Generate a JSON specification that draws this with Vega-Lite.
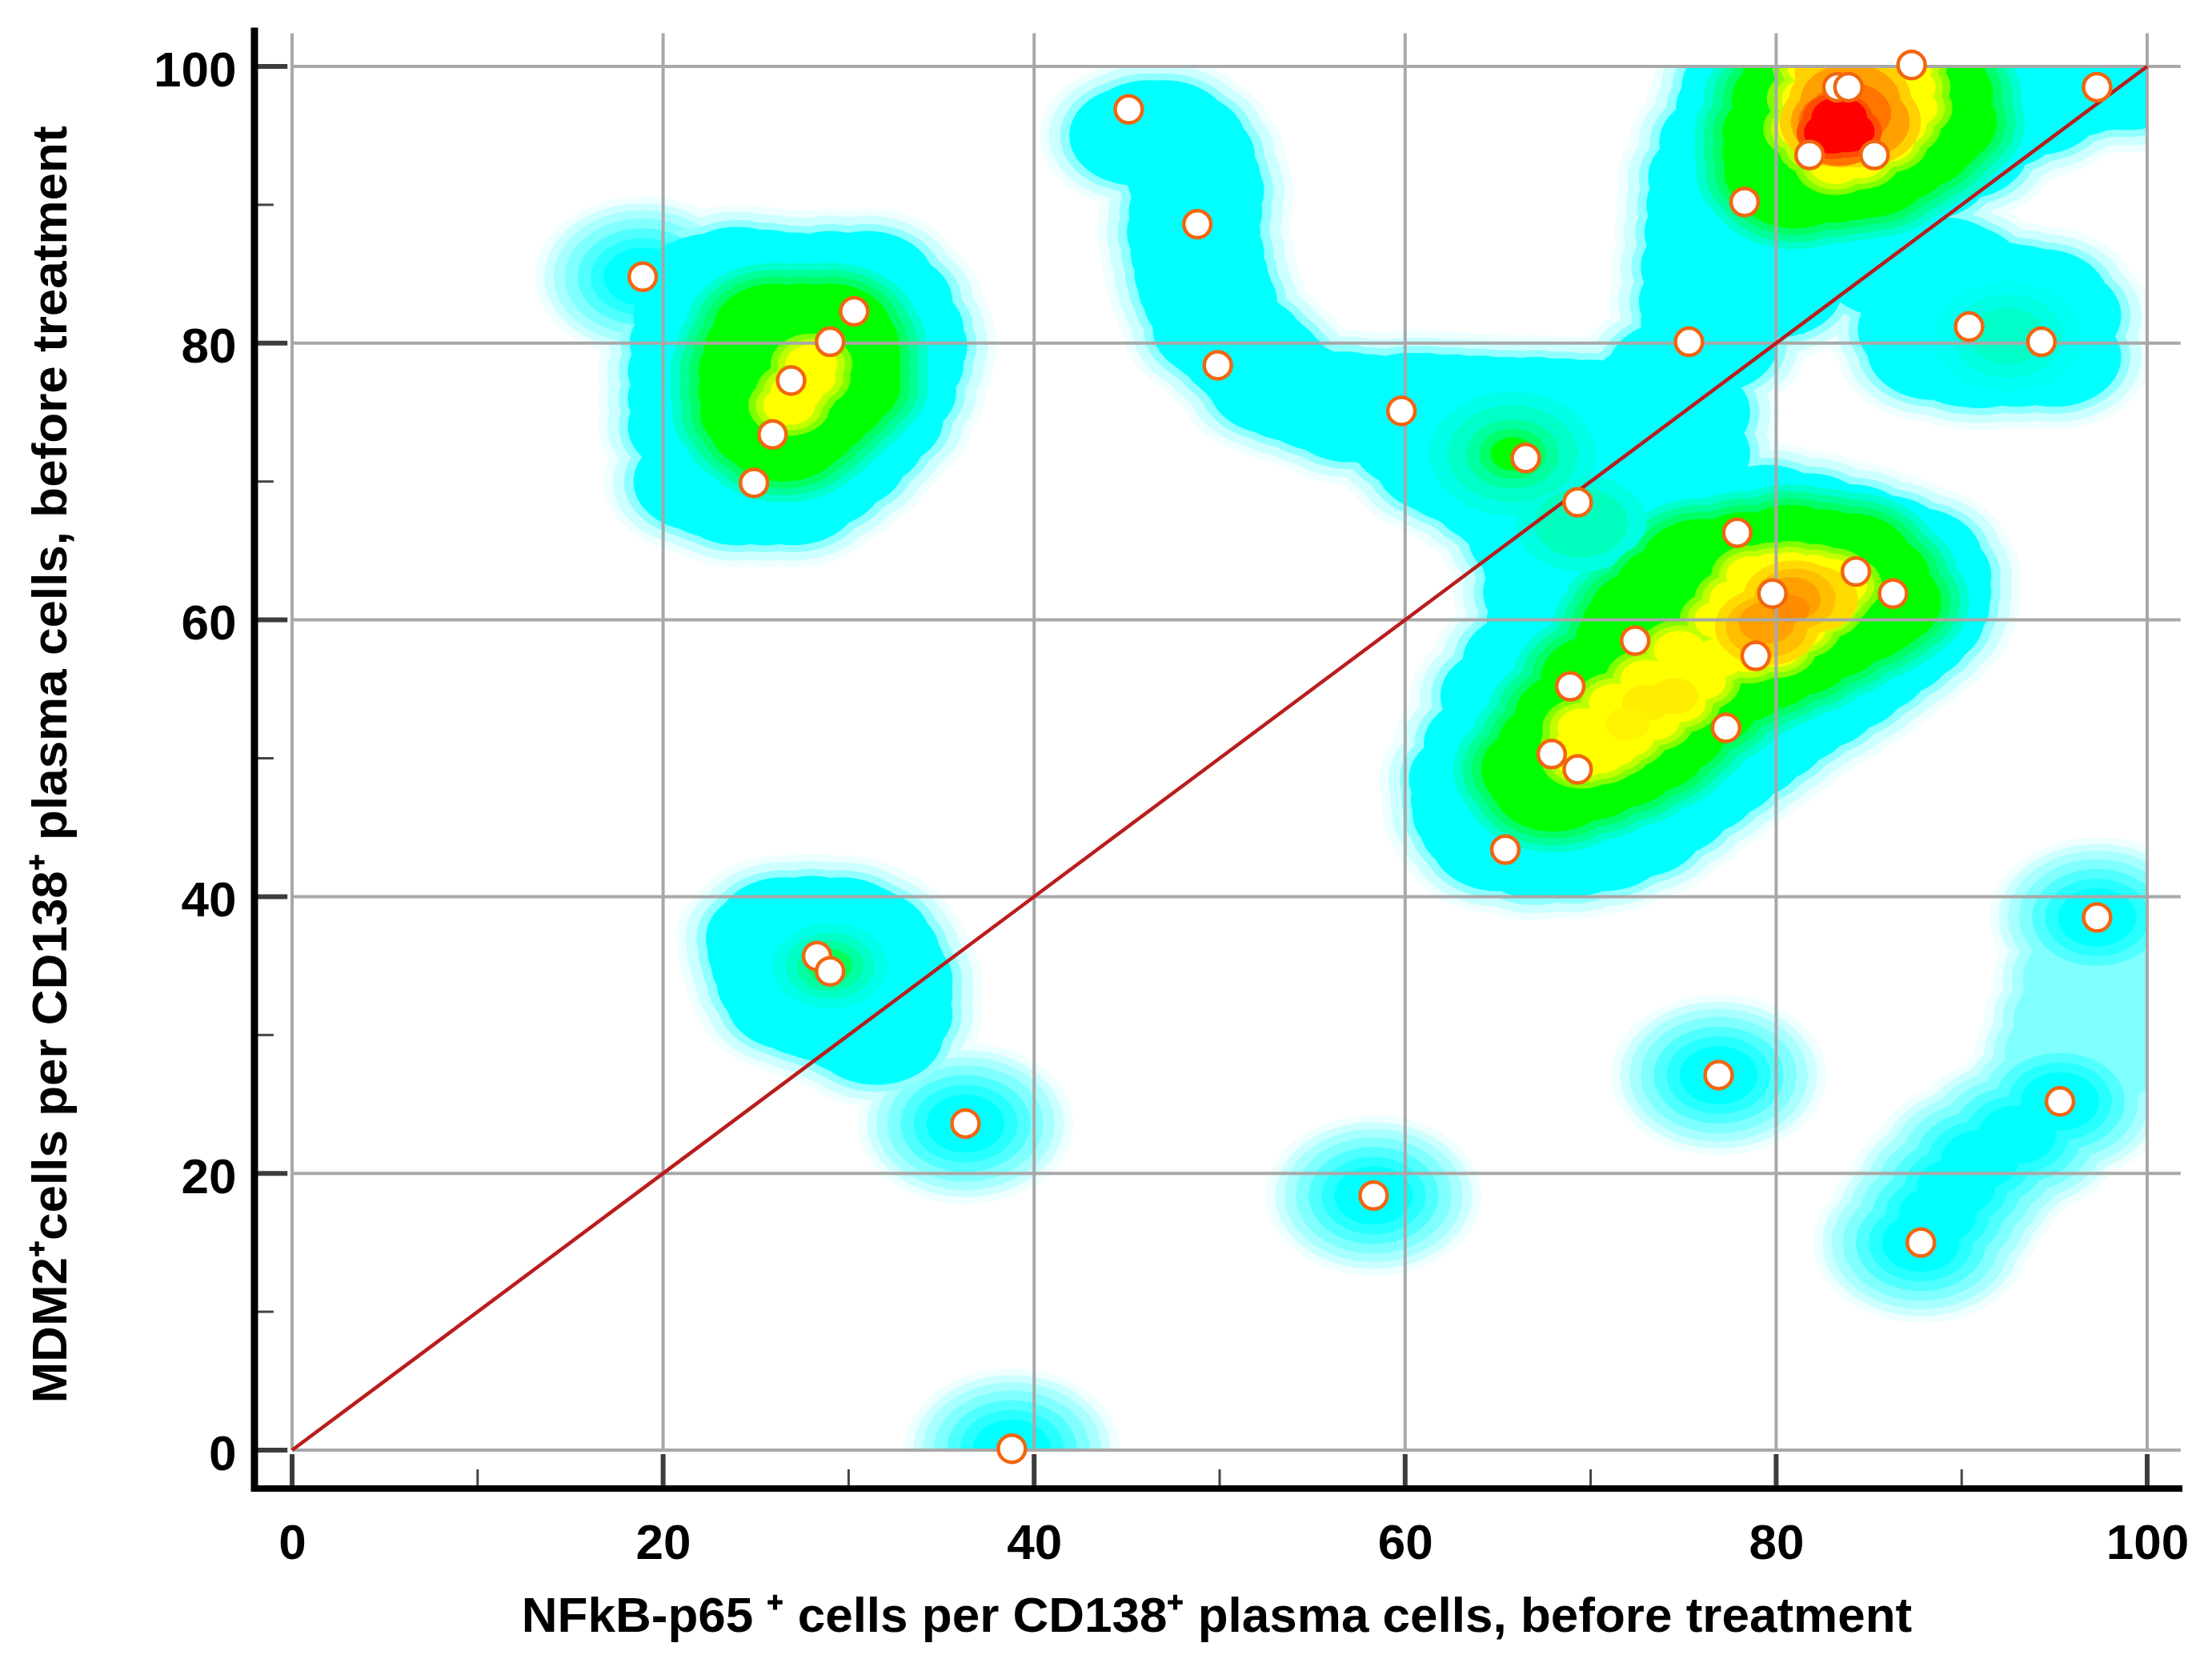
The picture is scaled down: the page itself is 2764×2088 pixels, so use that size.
{
"$schema":"https://vega.github.io/schema/vega-lite/v6.json",
"width":2318,"height":1729,
"autosize":{"type":"none"},
"padding":{"left":365,"top":83,"right":81,"bottom":276},
"background":"white",
"config":{"view":{"stroke":null}},
"datasets":{
"major":[{"x":0,"y":0},{"x":20,"y":20},{"x":40,"y":40},{"x":60,"y":60},{"x":80,"y":80},{"x":100,"y":100}],
"minor":[{"x":10,"y":10},{"x":30,"y":30},{"x":50,"y":50},{"x":70,"y":70},{"x":90,"y":90}],
"frame":[{"x":0,"y":0}],
"diagonal":[{"x":0,"y":0},{"x":100,"y":100}],
"patients":[{"x":45.1,"y":96.9},{"x":48.8,"y":88.6},{"x":49.9,"y":78.4},{"x":59.8,"y":75.1},{"x":66.5,"y":71.7},{"x":69.3,"y":68.5},{"x":18.9,"y":84.8},{"x":30.3,"y":82.3},{"x":29,"y":80.1},{"x":26.9,"y":77.3},{"x":25.9,"y":73.4},{"x":24.9,"y":69.9},{"x":75.3,"y":80.1},{"x":78.3,"y":90.2},{"x":81.8,"y":93.6},{"x":83.3,"y":98.5},{"x":83.9,"y":98.5},{"x":85.3,"y":93.6},{"x":87.3,"y":100.1},{"x":97.3,"y":98.5},{"x":90.4,"y":81.2},{"x":94.3,"y":80.1},{"x":77.9,"y":66.3},{"x":84.3,"y":63.5},{"x":86.3,"y":61.9},{"x":79.8,"y":61.9},{"x":78.9,"y":57.4},{"x":72.4,"y":58.5},{"x":68.9,"y":55.2},{"x":77.3,"y":52.2},{"x":67.9,"y":50.3},{"x":69.3,"y":49.2},{"x":65.4,"y":43.4},{"x":28.3,"y":35.7},{"x":29,"y":34.6},{"x":97.3,"y":38.5},{"x":36.3,"y":23.6},{"x":76.9,"y":27.1},{"x":95.3,"y":25.2},{"x":58.3,"y":18.4},{"x":87.8,"y":15},{"x":38.8,"y":0.1}],
"halo":[{"x":58.3,"y":18.4,"g":2},{"x":76.9,"y":27.1,"g":2},{"x":36.3,"y":23.6,"g":2},{"x":38.8,"y":0.1,"g":2},{"x":97.3,"y":38.5,"g":2},{"x":95.3,"y":25.2,"g":2},{"x":87.8,"y":15,"g":2},{"x":18.9,"y":84.8,"g":2},{"x":93,"y":22.8,"g":2},{"x":91,"y":21,"g":2},{"x":89.7,"y":19,"g":2},{"x":88.7,"y":17,"g":2},{"x":97.5,"y":34,"g":1},{"x":97,"y":31,"g":1},{"x":96.5,"y":28.5,"g":1}],
"ridge":[{"x":45.5,"y":95},{"x":46.2,"y":95.4},{"x":47,"y":95.4},{"x":47.8,"y":94.6},{"x":48.3,"y":93.5},{"x":48.6,"y":92},{"x":48.8,"y":91},{"x":48.7,"y":89.5},{"x":48.6,"y":88},{"x":48.8,"y":86.5},{"x":49,"y":85},{"x":49.2,"y":84},{"x":49.5,"y":83},{"x":50,"y":81},{"x":50.5,"y":80.5},{"x":51,"y":80},{"x":51.5,"y":79.3},{"x":52,"y":78.7},{"x":52.5,"y":78},{"x":53,"y":77},{"x":54,"y":76.5},{"x":55.5,"y":75.8},{"x":56.7,"y":75.8},{"x":57,"y":75},{"x":58,"y":75.6},{"x":59.5,"y":74.3},{"x":60.2,"y":75.7},{"x":60.7,"y":73},{"x":61,"y":75.7},{"x":62.5,"y":75.6},{"x":64,"y":75.5},{"x":65.5,"y":75.4},{"x":67,"y":75.4},{"x":68.5,"y":75.3},{"x":70,"y":75.2},{"x":71.5,"y":75.2},{"x":62,"y":71.3},{"x":63,"y":70.6},{"x":64,"y":70},{"x":65,"y":69},{"x":66,"y":68},{"x":66,"y":72},{"x":70,"y":72},{"x":72,"y":70},{"x":68,"y":70},{"x":73,"y":76},{"x":73.5,"y":76.5},{"x":74.5,"y":78},{"x":75,"y":75},{"x":75,"y":72},{"x":76.2,"y":83},{"x":76.3,"y":81.5},{"x":76.3,"y":85.5},{"x":76.5,"y":80},{"x":76.5,"y":88},{"x":76.6,"y":90},{"x":76.7,"y":92},{"x":77.3,"y":94.5},{"x":78.2,"y":97},{"x":78.5,"y":98.5},{"x":78.8,"y":100},{"x":80,"y":84},{"x":80,"y":90},{"x":84,"y":88},{"x":82,"y":87},{"x":85,"y":87},{"x":88,"y":92.5},{"x":88,"y":96},{"x":90,"y":94},{"x":92,"y":96.2},{"x":94,"y":97.2},{"x":96,"y":98.5},{"x":98,"y":99},{"x":99,"y":99},{"x":80,"y":96},{"x":84,"y":96},{"x":89,"y":85.5},{"x":89.8,"y":85},{"x":91,"y":84},{"x":92,"y":83.7},{"x":93,"y":83.5},{"x":94.3,"y":83.2},{"x":95,"y":82},{"x":95,"y":79},{"x":91,"y":78.9},{"x":90.3,"y":79},{"x":93,"y":79},{"x":88.5,"y":79.5},{"x":88,"y":81},{"x":88.2,"y":82.5},{"x":88.5,"y":84},{"x":86,"y":85.5},{"x":79.5,"y":67.6},{"x":81.7,"y":67},{"x":84,"y":66.2},{"x":85.8,"y":65.4},{"x":87.5,"y":64.5},{"x":88,"y":63.2},{"x":88,"y":62},{"x":87.9,"y":61},{"x":87.6,"y":60},{"x":86.9,"y":59},{"x":86,"y":58},{"x":84.7,"y":56.7},{"x":83.5,"y":55.5},{"x":82,"y":54.2},{"x":80.5,"y":53},{"x":79.2,"y":51.7},{"x":78,"y":50.5},{"x":76.7,"y":49.2},{"x":75.5,"y":48},{"x":74,"y":46.5},{"x":72.5,"y":45},{"x":70.7,"y":44},{"x":69,"y":43.6},{"x":67,"y":43.5},{"x":65,"y":44},{"x":64.4,"y":45},{"x":64,"y":46},{"x":63.9,"y":47},{"x":63.8,"y":48.5},{"x":64.6,"y":51},{"x":65.5,"y":54.5},{"x":66.7,"y":57},{"x":68,"y":60},{"x":67.8,"y":62},{"x":67.8,"y":64},{"x":67,"y":66},{"x":72,"y":66},{"x":76,"y":66},{"x":70,"y":50},{"x":75,"y":55},{"x":80,"y":60},{"x":72,"y":60},{"x":66,"y":50},{"x":68,"y":47},{"x":77,"y":62},{"x":82,"y":62},{"x":70,"y":56},{"x":84,"y":60},{"x":72.5,"y":50},{"x":22,"y":84},{"x":22.5,"y":84.3},{"x":24,"y":84.8},{"x":25.5,"y":84.6},{"x":27,"y":84.4},{"x":29,"y":84.5},{"x":31,"y":84.5},{"x":32,"y":83},{"x":32.6,"y":81},{"x":32.8,"y":79.8},{"x":32.6,"y":78.5},{"x":32.2,"y":76.5},{"x":31.5,"y":74.5},{"x":30.5,"y":73},{"x":29.5,"y":71.5},{"x":28.3,"y":70.2},{"x":27,"y":69},{"x":25.5,"y":69},{"x":24,"y":69},{"x":23,"y":69.5},{"x":22.5,"y":71.5},{"x":22,"y":70},{"x":21.7,"y":74},{"x":21.7,"y":76},{"x":21.7,"y":78},{"x":21.8,"y":80},{"x":22,"y":82},{"x":27,"y":78},{"x":25.9,"y":37},{"x":26,"y":36},{"x":26.2,"y":35},{"x":26.5,"y":33.7},{"x":27,"y":32.5},{"x":28,"y":32},{"x":28.7,"y":31.7},{"x":29.5,"y":31.5},{"x":30.5,"y":30.7},{"x":31.5,"y":30},{"x":32,"y":31.5},{"x":32,"y":33},{"x":32,"y":34},{"x":31.6,"y":35},{"x":31.3,"y":36},{"x":30.8,"y":37},{"x":30.2,"y":37.4},{"x":29.6,"y":37.8},{"x":28,"y":37.9},{"x":26.5,"y":37.8}],
"core":[{"x":26,"y":81},{"x":27.5,"y":81},{"x":29,"y":81},{"x":29.4,"y":80},{"x":29.5,"y":79},{"x":29.5,"y":78},{"x":29.5,"y":77},{"x":28.8,"y":76},{"x":28,"y":75},{"x":27.2,"y":74},{"x":26.5,"y":73.3},{"x":25.8,"y":74},{"x":25.3,"y":75},{"x":25.2,"y":76.5},{"x":25.2,"y":78},{"x":25.5,"y":79.5},{"x":67.4,"y":49.2},{"x":67.7,"y":48.6},{"x":68,"y":48},{"x":69.8,"y":48.8},{"x":71.5,"y":49.7},{"x":73,"y":50.8},{"x":74,"y":52},{"x":75.8,"y":54},{"x":77.7,"y":55.8},{"x":79.3,"y":56.8},{"x":81,"y":57.8},{"x":82.7,"y":59},{"x":84.4,"y":60.2},{"x":85,"y":60.7},{"x":85.6,"y":61.3},{"x":85,"y":63},{"x":84,"y":64.4},{"x":82.4,"y":64.7},{"x":80.8,"y":65},{"x":78.4,"y":64.5},{"x":76,"y":64},{"x":74.6,"y":62.2},{"x":73.2,"y":60.4},{"x":72.8,"y":59.5},{"x":72.5,"y":58.5},{"x":70.6,"y":55.7},{"x":69.2,"y":53},{"x":68.3,"y":51},{"x":72,"y":54},{"x":76,"y":59},{"x":80,"y":61},{"x":70,"y":50.5},{"x":78,"y":62},{"x":80.4,"y":95.2},{"x":80.4,"y":93.8},{"x":80.5,"y":92.4},{"x":81,"y":91.6},{"x":82,"y":92},{"x":83,"y":92},{"x":84,"y":92.2},{"x":85,"y":92.4},{"x":86.2,"y":93.4},{"x":87.4,"y":94.4},{"x":88,"y":95.2},{"x":88.6,"y":96},{"x":88.4,"y":98},{"x":88,"y":100},{"x":85,"y":100},{"x":81.5,"y":100},{"x":80.9,"y":97.6},{"x":84,"y":96}],
"peak":[{"x":69.5,"y":50},{"x":69.5,"y":51},{"x":69.6,"y":52.2},{"x":71.3,"y":54},{"x":73,"y":55.7},{"x":75,"y":57},{"x":74.8,"y":57.8},{"x":77,"y":60},{"x":77.8,"y":61.5},{"x":78.7,"y":63.2},{"x":79.8,"y":63.4},{"x":80.8,"y":63.5},{"x":82,"y":63.3},{"x":83,"y":63},{"x":83.5,"y":62.5},{"x":83,"y":61.7},{"x":82.5,"y":60.8},{"x":81.3,"y":59.4},{"x":80,"y":58},{"x":78.5,"y":57.6},{"x":77,"y":57.3},{"x":75.9,"y":55.6},{"x":74.8,"y":54},{"x":73.4,"y":52.7},{"x":72,"y":51.5},{"x":71.2,"y":50.8},{"x":70.5,"y":50.3},{"x":72,"y":54},{"x":81.5,"y":95.5},{"x":82.3,"y":94.2},{"x":83.2,"y":92.9},{"x":84.5,"y":93.3},{"x":85,"y":94},{"x":86,"y":94.5},{"x":86.7,"y":95.7},{"x":87.3,"y":97},{"x":87.2,"y":98.5},{"x":87,"y":100},{"x":84.5,"y":100},{"x":82,"y":100},{"x":81.7,"y":97.7},{"x":84.5,"y":96},{"x":26.8,"y":75.5},{"x":27.2,"y":76.5},{"x":27.9,"y":77.5},{"x":28,"y":78.5}],
"hot":[
{"x":65.8,"y":72,"d":0.2,"k":4.5},{"x":69.5,"y":67,"d":0.25,"k":3.5},{"x":65.8,"y":72,"d":0.4,"k":3.5},{"x":69.5,"y":67,"d":0.45,"k":2.5},{"x":65.8,"y":72,"d":0.6,"k":2.5},{"x":65.8,"y":72,"d":0.8,"k":1.8},{"x":65.8,"y":72,"d":1,"k":1.2},
{"x":92.5,"y":80.5,"d":0.1,"k":4},{"x":92.5,"y":80.5,"d":0.25,"k":3},{"x":92.5,"y":80.5,"d":0.4,"k":2},
{"x":29,"y":35,"d":0.2,"k":3.1},{"x":29,"y":35,"d":0.4,"k":2.4},{"x":29,"y":35,"d":0.6,"k":1.8},{"x":29,"y":35,"d":0.85,"k":1.2},
{"x":73,"y":54,"d":2.1,"k":1.3},{"x":74.5,"y":54.5,"d":2.1,"k":1.3},{"x":72,"y":52.5,"d":2.06,"k":1.2},
{"x":81,"y":61.5,"d":2.2,"k":2.8},{"x":79.5,"y":59.5,"d":2.2,"k":2.8},{"x":82,"y":61.5,"d":2.2,"k":2.4},
{"x":81,"y":61.5,"d":2.35,"k":2.2},{"x":79.5,"y":59.5,"d":2.35,"k":2.2},
{"x":80.8,"y":61.5,"d":2.5,"k":1.6},{"x":79.5,"y":59.8,"d":2.5,"k":1.5},{"x":80.8,"y":60.8,"d":2.6,"k":1},
{"x":83.5,"y":96,"d":2.25,"k":3.3},{"x":84.5,"y":96,"d":2.25,"k":3.3},{"x":84,"y":97.5,"d":2.25,"k":3.3},{"x":84,"y":99.5,"d":2.25,"k":3},
{"x":83.5,"y":96,"d":2.5,"k":2.7},{"x":84.5,"y":96,"d":2.5,"k":2.7},{"x":84,"y":97.5,"d":2.5,"k":2.7},
{"x":83.4,"y":96,"d":2.7,"k":2.2},{"x":84,"y":96.6,"d":2.7,"k":2.2},{"x":83.4,"y":95,"d":2.7,"k":2.2},
{"x":83.3,"y":96.2,"d":2.85,"k":1.9},{"x":83,"y":95.2,"d":2.85,"k":1.9},{"x":83.8,"y":95.3,"d":2.85,"k":1.9},
{"x":83.4,"y":96.3,"d":3,"k":1.5},{"x":83,"y":95.2,"d":3,"k":1.5},{"x":83.8,"y":95.3,"d":3,"k":1.5}]
},
"encoding":{
"x":{"field":"x","type":"quantitative","scale":{"domain":[0,100]},"axis":{"values":[0,20,40,60,80,100],"format":"d","title":"NFkB-p65 ⁺  cells per CD138⁺  plasma cells, before treatment","grid":false,"domain":false,"ticks":false,"labelFont":"Liberation Sans","labelFontWeight":"bold","labelFontSize":62,"labelPadding":86,"labelColor":"black","labelFlush":false,"labelOverlap":false,"titleFont":"Liberation Sans","titleFontSize":62,"titleFontWeight":"bold","titleColor":"black","titleX":1155,"titleY":207,"titleBaseline":"middle","titleAnchor":"middle"}},
"y":{"field":"y","type":"quantitative","scale":{"domain":[0,100]},"axis":{"values":[0,20,40,60,80,100],"format":"d","title":"MDM2⁺cells per CD138⁺ plasma cells, before treatment","grid":false,"domain":false,"ticks":false,"labelFont":"Liberation Sans","labelFontWeight":"bold","labelFontSize":62,"labelPadding":70,"labelColor":"black","labelFlush":false,"labelOverlap":false,"labelOffset":5,"titleFont":"Liberation Sans","titleFontSize":62,"titleFontWeight":"bold","titleColor":"black","titleX":-302,"titleY":872,"titleAngle":-90,"titleBaseline":"middle","titleAnchor":"middle"}}
},
"layer":[
{"data":{"name":"halo"},"mark":{"type":"point","clip":true,"filled":true,"opacity":1,"strokeWidth":0,"shape":"M-1,0A1,0.746,0,1,1,1,0A1,0.746,0,1,1,-1,0Z","size":72300,"color":"#eeffff"}},
{"data":{"name":"ridge"},"mark":{"type":"point","clip":true,"filled":true,"opacity":1,"strokeWidth":0,"shape":"M-1,0A1,0.746,0,1,1,1,0A1,0.746,0,1,1,-1,0Z","size":58100,"color":"#eeffff"}},
{"data":{"name":"halo"},"mark":{"type":"point","clip":true,"filled":true,"opacity":1,"strokeWidth":0,"shape":"M-1,0A1,0.746,0,1,1,1,0A1,0.746,0,1,1,-1,0Z","size":60370,"color":"#ccffff"}},
{"data":{"name":"ridge"},"mark":{"type":"point","clip":true,"filled":true,"opacity":1,"strokeWidth":0,"shape":"M-1,0A1,0.746,0,1,1,1,0A1,0.746,0,1,1,-1,0Z","size":47480,"color":"#ccffff"}},
{"data":{"name":"halo"},"mark":{"type":"point","clip":true,"filled":true,"opacity":1,"strokeWidth":0,"shape":"M-1,0A1,0.746,0,1,1,1,0A1,0.746,0,1,1,-1,0Z","size":49520,"color":"#a8ffff"}},
{"data":{"name":"halo"},"mark":{"type":"point","clip":true,"filled":true,"opacity":1,"strokeWidth":0,"shape":"M-1,0A1,0.746,0,1,1,1,0A1,0.746,0,1,1,-1,0Z","size":37910,"color":"#80ffff"}},
{"data":{"name":"ridge"},"mark":{"type":"point","clip":true,"filled":true,"opacity":1,"strokeWidth":0,"shape":"M-1,0A1,0.746,0,1,1,1,0A1,0.746,0,1,1,-1,0Z","size":36130,"color":"#90ffff"}},
{"data":{"name":"halo"},"transform":[{"filter":"datum.g >= 2"}],"mark":{"type":"point","clip":true,"filled":true,"opacity":1,"strokeWidth":0,"shape":"M-1,0A1,0.746,0,1,1,1,0A1,0.746,0,1,1,-1,0Z","size":26330,"color":"#50ffff"}},
{"data":{"name":"halo"},"transform":[{"filter":"datum.g >= 2"}],"mark":{"type":"point","clip":true,"filled":true,"opacity":1,"strokeWidth":0,"shape":"M-1,0A1,0.746,0,1,1,1,0A1,0.746,0,1,1,-1,0Z","size":16850,"color":"#28ffff"}},
{"data":{"name":"halo"},"transform":[{"filter":"datum.g >= 2"}],"mark":{"type":"point","clip":true,"filled":true,"opacity":1,"strokeWidth":0,"shape":"M-1,0A1,0.746,0,1,1,1,0A1,0.746,0,1,1,-1,0Z","size":9478,"color":"#00ffff"}},
{"data":{"name":"ridge"},"mark":{"type":"point","clip":true,"filled":true,"opacity":1,"strokeWidth":0,"shape":"M-1,0A1,0.746,0,1,1,1,0A1,0.746,0,1,1,-1,0Z","size":27850,"color":"#00ffff"}},
{"data":{"name":"core"},"mark":{"type":"point","clip":true,"filled":true,"opacity":1,"strokeWidth":0,"shape":"M-1,0A1,0.746,0,1,1,1,0A1,0.746,0,1,1,-1,0Z","size":49500,"color":"#00ffcc"}},
{"data":{"name":"core"},"mark":{"type":"point","clip":true,"filled":true,"opacity":1,"strokeWidth":0,"shape":"M-1,0A1,0.746,0,1,1,1,0A1,0.746,0,1,1,-1,0Z","size":39760,"color":"#00ff99"}},
{"data":{"name":"hot"},"transform":[{"filter":"datum.d <= 1"}],"mark":{"type":"point","clip":true,"filled":true,"opacity":1,"strokeWidth":0,"shape":"M-1,0A1,0.746,0,1,1,1,0A1,0.746,0,1,1,-1,0Z"},"encoding":{"size":{"field":"k","type":"quantitative","legend":null,"scale":{"type":"pow","exponent":2,"domain":[0,10],"range":[0,214920]}},"color":{"field":"d","type":"quantitative","legend":null,"scale":{"domain":[0,1,2,3],"range":["#00ffff","#00ff00","#ffff00","#ff0000"]}}}},
{"data":{"name":"core"},"mark":{"type":"point","clip":true,"filled":true,"opacity":1,"strokeWidth":0,"shape":"M-1,0A1,0.746,0,1,1,1,0A1,0.746,0,1,1,-1,0Z","size":31000,"color":"#00ff66"}},
{"data":{"name":"core"},"mark":{"type":"point","clip":true,"filled":true,"opacity":1,"strokeWidth":0,"shape":"M-1,0A1,0.746,0,1,1,1,0A1,0.746,0,1,1,-1,0Z","size":23400,"color":"#00ff00"}},
{"data":{"name":"peak"},"mark":{"type":"point","clip":true,"filled":true,"opacity":1,"strokeWidth":0,"shape":"M-1,0A1,0.746,0,1,1,1,0A1,0.746,0,1,1,-1,0Z","size":10400,"color":"#80ff00"}},
{"data":{"name":"peak"},"mark":{"type":"point","clip":true,"filled":true,"opacity":1,"strokeWidth":0,"shape":"M-1,0A1,0.746,0,1,1,1,0A1,0.746,0,1,1,-1,0Z","size":6964,"color":"#c0ff00"}},
{"data":{"name":"peak"},"mark":{"type":"point","clip":true,"filled":true,"opacity":1,"strokeWidth":0,"shape":"M-1,0A1,0.746,0,1,1,1,0A1,0.746,0,1,1,-1,0Z","size":4212,"color":"#ffff00"}},
{"data":{"name":"hot"},"transform":[{"filter":"datum.d > 1"}],"mark":{"type":"point","clip":true,"filled":true,"opacity":1,"strokeWidth":0,"shape":"M-1,0A1,0.746,0,1,1,1,0A1,0.746,0,1,1,-1,0Z"},"encoding":{"size":{"field":"k","type":"quantitative","legend":null,"scale":{"type":"pow","exponent":2,"domain":[0,10],"range":[0,214920]}},"color":{"field":"d","type":"quantitative","legend":null,"scale":{"domain":[0,1,2,3],"range":["#00ffff","#00ff00","#ffff00","#ff0000"]}}}},
{"data":{"name":"major"},"mark":{"type":"rule","color":"#a8a8a8","strokeWidth":4},"encoding":{"y":{"datum":0,"type":"quantitative","scale":{"domain":[0,100]},"axis":{"title":"MDM2⁺cells per CD138⁺ plasma cells, before treatment"}},"y2":{"datum":102.4}}},
{"data":{"name":"major"},"mark":{"type":"rule","color":"#a8a8a8","strokeWidth":4},"encoding":{"x":{"datum":0,"type":"quantitative","scale":{"domain":[0,100]},"axis":{"title":"NFkB-p65 ⁺  cells per CD138⁺  plasma cells, before treatment"}},"x2":{"datum":101.8}}},
{"data":{"name":"major"},"mark":{"type":"rule","color":"#3c3c3c","strokeWidth":6},"encoding":{"y":{"datum":-2.54,"type":"quantitative","scale":{"domain":[0,100]},"axis":{"title":"MDM2⁺cells per CD138⁺ plasma cells, before treatment"}},"y2":{"datum":-0.29}}},
{"data":{"name":"major"},"mark":{"type":"rule","color":"#3c3c3c","strokeWidth":6},"encoding":{"x":{"datum":-2,"type":"quantitative","scale":{"domain":[0,100]},"axis":{"title":"NFkB-p65 ⁺  cells per CD138⁺  plasma cells, before treatment"}},"x2":{"datum":-0.25}}},
{"data":{"name":"minor"},"mark":{"type":"rule","color":"#444444","strokeWidth":3},"encoding":{"y":{"datum":-2.54,"type":"quantitative","scale":{"domain":[0,100]},"axis":{"title":"MDM2⁺cells per CD138⁺ plasma cells, before treatment"}},"y2":{"datum":-1.39}}},
{"data":{"name":"minor"},"mark":{"type":"rule","color":"#444444","strokeWidth":3},"encoding":{"x":{"datum":-2,"type":"quantitative","scale":{"domain":[0,100]},"axis":{"title":"NFkB-p65 ⁺  cells per CD138⁺  plasma cells, before treatment"}},"x2":{"datum":-1}}},
{"data":{"name":"frame"},"mark":{"type":"rule","color":"black","strokeWidth":9},"encoding":{"x":{"datum":-2.03,"type":"quantitative","scale":{"domain":[0,100]},"axis":{"title":"NFkB-p65 ⁺  cells per CD138⁺  plasma cells, before treatment"}},"y":{"datum":-3,"type":"quantitative","scale":{"domain":[0,100]},"axis":{"title":"MDM2⁺cells per CD138⁺ plasma cells, before treatment"}},"y2":{"datum":102.8}}},
{"data":{"name":"frame"},"mark":{"type":"rule","color":"black","strokeWidth":8},"encoding":{"y":{"datum":-2.78,"type":"quantitative","scale":{"domain":[0,100]},"axis":{"title":"MDM2⁺cells per CD138⁺ plasma cells, before treatment"}},"x":{"datum":-2.2,"type":"quantitative","scale":{"domain":[0,100]},"axis":{"title":"NFkB-p65 ⁺  cells per CD138⁺  plasma cells, before treatment"}},"x2":{"datum":101.9}}},
{"data":{"name":"diagonal"},"mark":{"type":"line","color":"#bb1c1c","strokeWidth":4.5}},
{"data":{"name":"patients"},"mark":{"type":"point","filled":false,"fill":"white","fillOpacity":1,"opacity":1,"stroke":"#f2660f","strokeWidth":4.5,"size":1150,"shape":"circle"}}
]
}
